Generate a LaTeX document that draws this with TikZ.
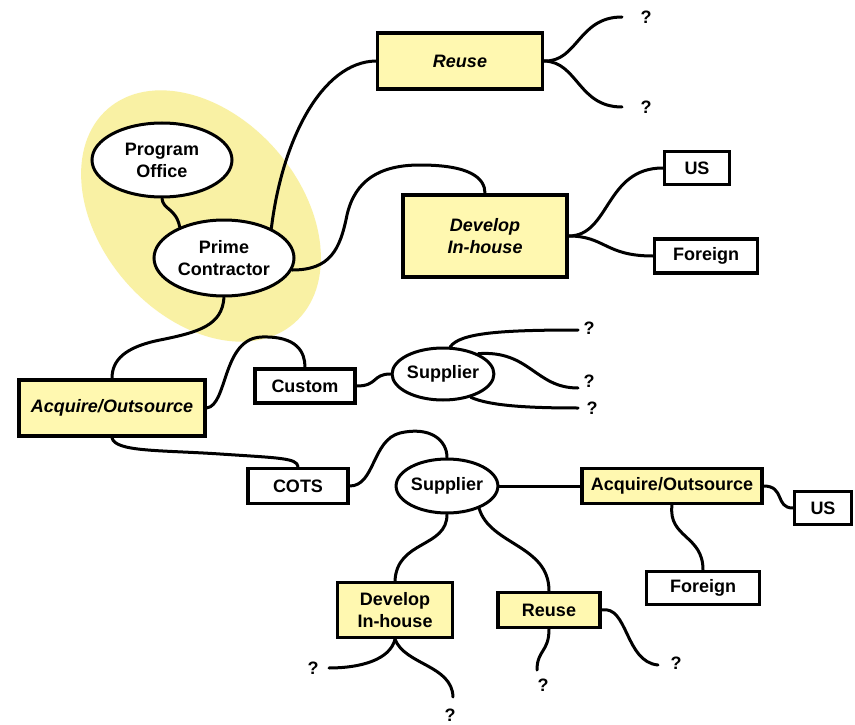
\documentclass[tikz,border=0pt]{standalone}
\usepackage{fontspec}
\setmainfont{Liberation Sans}
\usetikzlibrary{shapes.geometric}
\definecolor{boxyellow}{HTML}{FFF8B0}
\definecolor{hiyellow}{HTML}{F9F1A4}
\tikzset{
  every node/.style={font=\fontsize{18}{22}\selectfont\bfseries, align=center},
  ybox/.style={draw, line width=3.5pt, fill=boxyellow, rectangle, inner sep=0pt},
  wbox/.style={draw, line width=3.5pt, fill=white, rectangle, inner sep=0pt},
  oval/.style={draw, line width=3pt, fill=white, ellipse, inner sep=0pt},
  conn/.style={line width=3pt, line cap=round},
  qmark/.style={inner sep=0pt},
}
\begin{document}
\begin{tikzpicture}[x=1pt,y=-1pt]
\path[use as bounding box, fill=white] (0,0) rectangle (855,725);
% highlight
\fill[hiyellow] (201,216) circle[x radius=142, y radius=100, rotate=-49];

% nodes
\node[oval, minimum width=140, minimum height=74] (po) at (162,160) {Program\\Office};
\node[oval, minimum width=140, minimum height=76] (pc) at (224,258) {Prime\\Contractor};
\node[ybox, minimum width=165, minimum height=56] (reuse1) at (460,61) {\itshape Reuse};
\node[ybox, minimum width=164, minimum height=82] (dev1) at (485,236) {\itshape Develop\\\itshape In-house};
\node[wbox, minimum width=65, minimum height=33] (us1) at (697,168) {US};
\node[wbox, minimum width=103, minimum height=34] (for1) at (706,256) {Foreign};
\node[ybox, minimum width=186, minimum height=56] (acq1) at (112,408) {\itshape Acquire/Outsource};
\node[wbox, minimum width=100, minimum height=34] (custom) at (305,386) {Custom};
\node[wbox, minimum width=100, minimum height=35] (cots) at (298,486) {COTS};
\node[oval, minimum width=100, minimum height=52] (sup1) at (443,374) {Supplier};
\node[oval, minimum width=100, minimum height=54] (sup2) at (447,486) {Supplier};
\node[ybox, minimum width=180, minimum height=35] (acq2) at (672,486) {Acquire/Outsource};
\node[wbox, minimum width=57, minimum height=33] (us2) at (823,508) {US};
\node[wbox, minimum width=113, minimum height=33] (for2) at (703,588) {Foreign};
\node[ybox, minimum width=115, minimum height=55] (dev2) at (395,610) {Develop\\In-house};
\node[ybox, minimum width=102, minimum height=35] (reuse2) at (549,610) {Reuse};

% question marks
\node[qmark] (qa) at (646,17) {?};
\node[qmark] (qb) at (646,107) {?};
\node[qmark] (qc) at (589,328) {?};
\node[qmark] (qd) at (589,381) {?};
\node[qmark] (qe) at (592,408) {?};
\node[qmark] (qf) at (313,668) {?};
\node[qmark] (qg) at (450,715) {?};
\node[qmark] (qh) at (543,685) {?};
\node[qmark] (qi) at (676,663) {?};
\coordinate (ea) at (622,17);
\coordinate (eb) at (622,107);
\coordinate (ec) at (578,330);
\coordinate (ed) at (578,388);
\coordinate (ee) at (578,408);
\coordinate (ef) at (329,668);
\coordinate (eg) at (453,697);
\coordinate (eh) at (537,670);
\coordinate (ei) at (658,665);

% connectors
\draw[conn] (po.south) .. controls (163,210) and (176,208) .. (pc.145);
\draw[conn] (pc.32) .. controls (282,140) and (322,62) .. (reuse1.west);
\draw[conn] (reuse1.east) .. controls (578,62) and (578,17) .. (ea);
\draw[conn] (reuse1.east) .. controls (578,62) and (578,107) .. (eb);
\draw[conn] (pc.-10) .. controls (330,270) and (340,250) .. (347,215)
   .. controls (355,180) and (380,165) .. (420,165)
   .. controls (470,165) and (485,178) .. (dev1.north);
\draw[conn] (dev1.east) .. controls (610,236) and (605,168) .. (us1.west);
\draw[conn] (dev1.east) .. controls (605,236) and (605,256) .. (for1.west);
\draw[conn] (pc.south) .. controls (222,325) and (200,332) .. (160,340)
   .. controls (125,347) and (112,360) .. (acq1.north);
\draw[conn] (acq1.east) .. controls (228,405) and (222,338) .. (262,337)
   .. controls (297,336) and (305,352) .. (custom.north);
\draw[conn] (acq1.south) .. controls (115,452) and (160,450) .. (220,454)
   .. controls (280,458) and (297,458) .. (cots.north);
\draw[conn] (custom.east) .. controls (378,386) and (372,374) .. (sup1.west);
\draw[conn] (sup1.75) .. controls (460,333) and (500,330) .. (ec);
\draw[conn] (sup1.30) .. controls (530,350) and (535,388) .. (ed);
\draw[conn] (sup1.-40) .. controls (490,406) and (530,408) .. (ee);
\draw[conn] (cots.east) .. controls (375,486) and (372,440) .. (400,433)
   .. controls (430,426) and (447,440) .. (sup2.north);
\draw[conn] (sup2.east) -- (acq2.west);
\draw[conn] (acq2.east) .. controls (785,486) and (775,508) .. (us2.west);
\draw[conn] (acq2.south) .. controls (668,538) and (703,535) .. (for2.north);
\draw[conn] (sup2.south) .. controls (447,548) and (397,540) .. (dev2.north);
\draw[conn] (sup2.-35) .. controls (490,545) and (549,545) .. (reuse2.north);
\draw[conn] (dev2.south) .. controls (390,660) and (360,668) .. (ef);
\draw[conn] (dev2.south) .. controls (405,665) and (452,665) .. (eg);
\draw[conn] (reuse2.south) .. controls (549,652) and (537,650) .. (eh);
\draw[conn] (reuse2.east) .. controls (628,605) and (625,662) .. (ei);
\end{tikzpicture}
\end{document}
